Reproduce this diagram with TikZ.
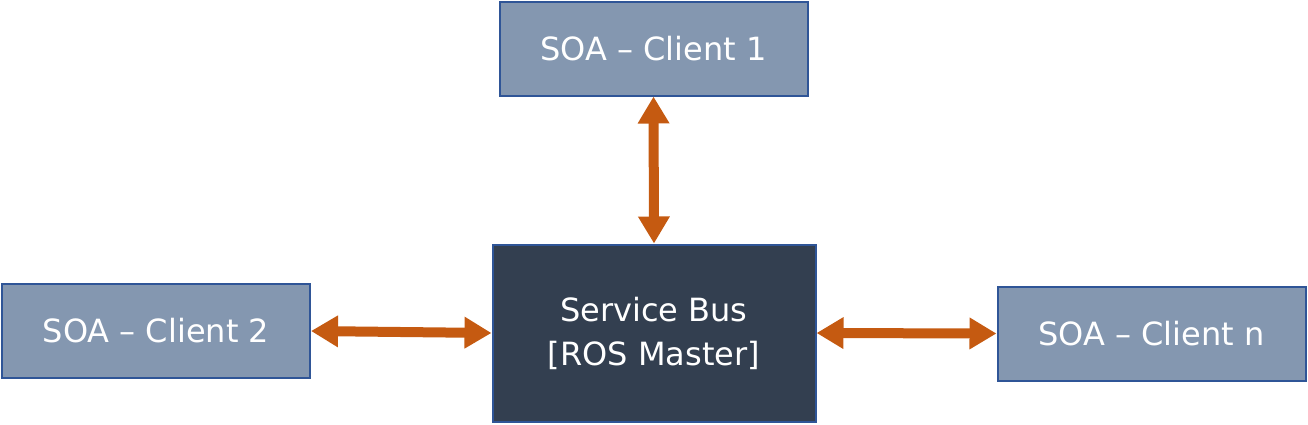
\documentclass[tikz,border=0pt]{standalone}
\usepackage{fontspec}
\setmainfont{DejaVu Sans}
\usetikzlibrary{arrows.meta}
\definecolor{clientfill}{HTML}{8497B0}
\definecolor{busfill}{HTML}{333F50}
\definecolor{edgeblue}{HTML}{2F5597}
\definecolor{arrorange}{HTML}{C55A11}
\begin{document}
\begin{tikzpicture}[x=1pt,y=-1pt,
  client/.style={draw=edgeblue,line width=2pt,fill=clientfill,text=white,
    minimum width=308pt,minimum height=94pt,inner sep=0pt,
    font=\fontsize{32}{38}\selectfont},
  bus/.style={draw=edgeblue,line width=2pt,fill=busfill,text=white,
    minimum width=323pt,minimum height=177pt,inner sep=0pt,align=center,
    font=\fontsize{32}{44}\selectfont},
  link/.style={draw=arrorange,line width=10pt,
    {Triangle[length=27pt,width=30pt]}-{Triangle[length=27pt,width=30pt]}}]
\useasboundingbox (0,0) rectangle (1308,424);
\node[client] (c1) at (653.5,48.5) {SOA – Client 1};
\node[bus] (bus) at (654,333) {Service Bus\\{}[ROS Master]};
\node[client] (c2) at (156,331) {SOA – Client 2};
\node[client] (cn) at (1151.5,333.5) {SOA – Client n};
\draw[link] (c1.south) -- (bus.north);
\draw[link] (c2.east) -- (bus.west);
\draw[link] (bus.east) -- (cn.west);
\end{tikzpicture}
\end{document}
